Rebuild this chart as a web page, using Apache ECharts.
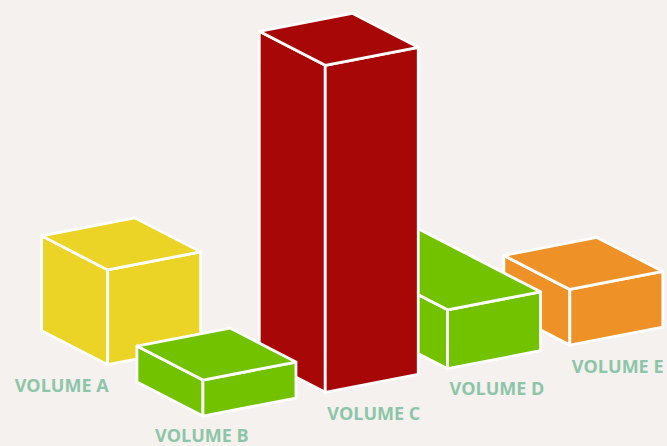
<!DOCTYPE html>
<html>
<head>
<meta charset="utf-8">
<script src="https://cdn.jsdelivr.net/npm/echarts@6/dist/echarts.min.js"></script>
<style>
  html, body { margin: 0; padding: 0; background: #f5f1ee; }
  #chart { width: 667px; height: 446px; }
</style>
</head>
<body>
<div id="chart"></div>
<script>
// ---- data ----
const categories = ['VOLUME A', 'VOLUME B', 'VOLUME C', 'VOLUME D', 'VOLUME E'];
const volumes = [29, 11, 100, 18, 17];
const boxColors = ['#ecd426', '#72c200', '#a80707', '#72c200', '#ee9227'];

// ---- layout (not data) ----
const drawOrder = [0, 4, 3, 2, 1];            // back-to-front painting order
const RIGHT = [93, -18];                        // front-right edge vector
const DEPTH = [-66, -34];                       // back-left edge vector
const SLOPE = 18 / 93;                          // iso floor slope
const depthScale = [1, 1, 1, 2.5, 1];
const boxShift = [[27, -75], [0, 0], [0, 0], [0, 0], [0, 0]];
const labelShift = [[-93, 20], [-48, 19], [2, 21], [2, 19], [2, 21]];

const chart = echarts.init(document.getElementById('chart'), null, { renderer: 'svg' });

function renderItem(params, api) {
  const i = api.value(0);
  const v = api.value(1);
  const p = api.coord([i, 0]);
  const p0 = api.coord([0, 0]);
  const h = api.size([0, v])[1];
  const x = p[0] + boxShift[i][0];
  const yb = p[1] - (p[0] - p0[0]) * SLOPE + boxShift[i][1];
  const k = depthScale[i];
  const D = [DEPTH[0] * k, DEPTH[1] * k];
  const F = [x, yb - h];
  const B = [x, yb];
  const add = (a, b) => [a[0] + b[0], a[1] + b[1]];
  const style = { fill: boxColors[i], stroke: '#ffffff', lineWidth: 2.8, lineJoin: 'round' };
  const rank = drawOrder.indexOf(i) * 10;
  return {
    type: 'group',
    children: [
      { type: 'polygon', z2: rank, shape: { points: [F, add(F, D), add(B, D), B] }, style: style },
      { type: 'polygon', z2: rank + 1, shape: { points: [F, add(F, RIGHT), add(B, RIGHT), B] }, style: style },
      { type: 'polygon', z2: rank + 2, shape: { points: [F, add(F, RIGHT), add(add(F, RIGHT), D), add(F, D)] }, style: style },
      {
        type: 'text', z2: 200,
        x: x + labelShift[i][0], y: yb + labelShift[i][1],
        style: {
          text: categories[i], fill: '#8dc5a9',
          font: 'bold 18px "Open Sans", sans-serif',
          textAlign: 'left', textVerticalAlign: 'middle'
        }
      }
    ]
  };
}

chart.setOption({
  backgroundColor: '#f5f1ee',
  animation: false,
  grid: { left: 19.5, right: 36, top: 112.7, bottom: 6.3 },
  xAxis: { type: 'category', data: categories, show: false, boundaryGap: true },
  yAxis: { type: 'value', min: 0, max: 100, show: false },
  series: [{
    type: 'custom',
    renderItem: renderItem,
    clip: false,
    encode: { x: 0, y: 1 },
    data: drawOrder.map(i => [i, volumes[i]])
  }]
});
</script>
</body>
</html>
